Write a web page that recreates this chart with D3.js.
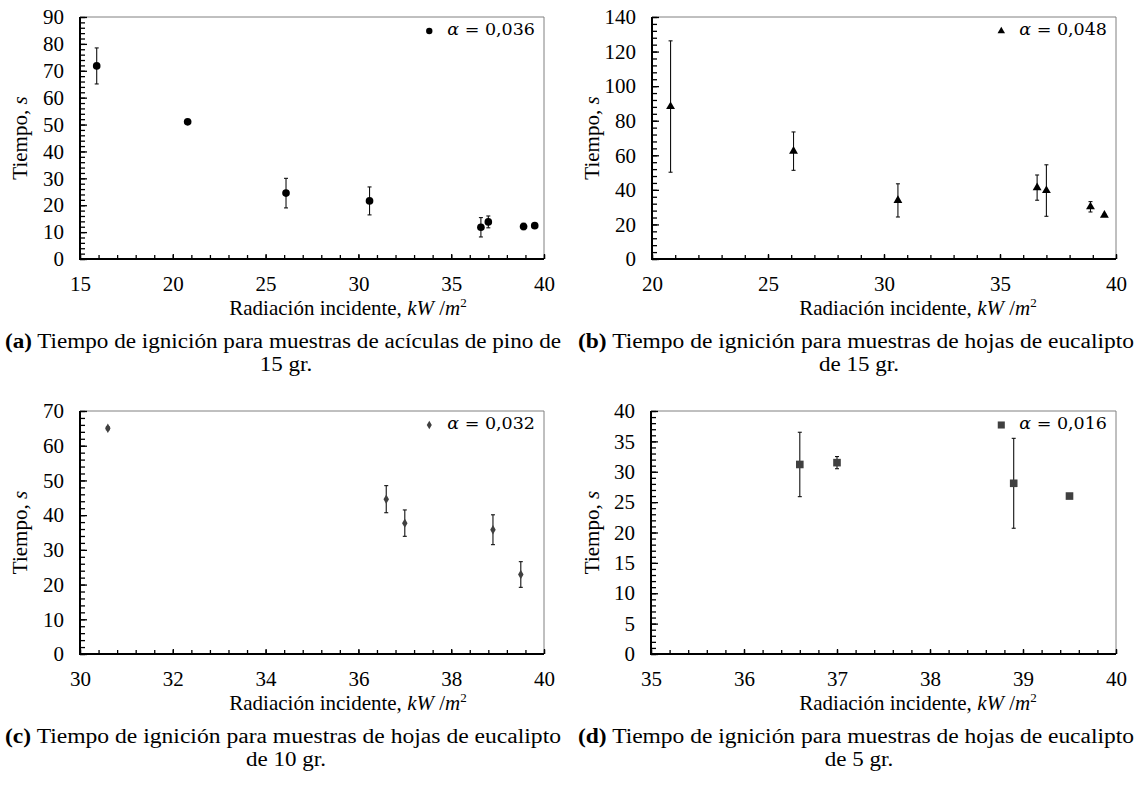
<!DOCTYPE html>
<html>
<head>
<meta charset="utf-8">
<script src="https://cdn.jsdelivr.net/npm/d3@7"></script>
<style>
  body { margin: 0; background: #fff; }
  svg { display: block; }
</style>
</head>
<body>
<svg id="fig" width="1138" height="785"></svg>
<script>
// (a) pine needles, 15 g
const pinoX   = [15.9, 20.8, 26.1, 30.6, 36.6, 37.0, 38.9, 39.5];
const pinoY   = [71.8, 51.0, 24.5, 21.6, 11.8, 13.8, 12.1, 12.4];
const pinoErr = [6.7, 0.8, 5.5, 5.2, 3.6, 2.2, 1.2, 0.6];

// (b) eucalyptus leaves, 15 g
const euc15X   = [20.8, 26.1, 30.6, 36.6, 37.0, 38.9, 39.5];
const euc15Y   = [88.2, 62.4, 33.9, 41.3, 39.6, 30.2, 25.4];
const euc15Err = [38.0, 11.1, 9.6, 7.3, 14.9, 3.0, 0.5];

// (c) eucalyptus leaves, 10 g
const euc10X   = [30.6, 36.6, 37.0, 38.9, 39.5];
const euc10Y   = [65.0, 44.6, 37.7, 35.8, 22.9];
const euc10Err = [0.4, 3.9, 3.8, 4.3, 3.7];

// (d) eucalyptus leaves, 5 g
const euc5X   = [36.6, 37.0, 38.9, 39.5];
const euc5Y   = [31.2, 31.5, 28.1, 26.0];
const euc5Err = [5.3, 1.0, 7.4, 0.3];

// fitted coefficients shown in each legend
const alphaLabels = ["0,036", "0,048", "0,032", "0,016"];

// axis ranges and tick steps
const xDomains = [[15, 40], [20, 40], [30, 40], [35, 40]];
const xMajor   = [5, 5, 2, 1];
const xMinor   = [1, 1, 0.4, 0.2];
const yDomains = [[0, 90], [0, 140], [0, 70], [0, 40]];
const yMajor   = [10, 20, 10, 5];
const yMinor   = [2, 4, 2, 1];

// sub-figure captions
const captionTags  = ["(a)", "(b)", "(c)", "(d)"];
const captionLine1 = [
  " Tiempo de ignición para muestras de acículas de pino de",
  " Tiempo de ignición para muestras de hojas de eucalipto",
  " Tiempo de ignición para muestras de hojas de eucalipto",
  " Tiempo de ignición para muestras de hojas de eucalipto"
];
const captionLine2 = ["15 gr.", "de 15 gr.", "de 10 gr.", "de 5 gr."];

const series = [
  { x: pinoX,  y: pinoY,  e: pinoErr },
  { x: euc15X, y: euc15Y, e: euc15Err },
  { x: euc10X, y: euc10Y, e: euc10Err },
  { x: euc5X,  y: euc5Y,  e: euc5Err }
];

// page layout for the four panels
const layout = [
  { l: 80,  r: 544,  t: 17,  b: 259, col: [0, 566],    ytX: 20,  xtX: 348 },
  { l: 652, r: 1116, t: 17,  b: 259, col: [574, 1138], ytX: 592, xtX: 918 },
  { l: 80,  r: 544,  t: 411, b: 654, col: [0, 566],    ytX: 20,  xtX: 348 },
  { l: 651, r: 1116, t: 411, b: 654, col: [574, 1138], ytX: 592, xtX: 918 }
];

const markerStyle = [
  { type: d3.symbolCircle,   size: 46, legendSize: 32, fill: "#000" },
  { type: d3.symbolTriangle, size: 34, legendSize: 24, fill: "#000" },
  { type: d3.symbolDiamond,  size: 26, legendSize: 22, fill: "#404040" },
  { type: d3.symbolSquare,   size: 58, legendSize: 50, fill: "#404040" }
];

const FONT = "'Liberation Serif', 'Times New Roman', serif";
const MATH = "'DejaVu Serif', serif";
const FS = 21;      // axis text
const CAP_FS = 20;  // caption text
const svg = d3.select("#fig");

function ticksBy(domain, step) {
  const out = [];
  const n = Math.round((domain[1] - domain[0]) / step);
  for (let i = 0; i <= n; i++) out.push(+(domain[0] + i * step).toFixed(6));
  return out;
}

// widen a text run slightly, as the typeset figure's glyphs are
function stretch(sel, k) {
  const w = sel.node().getComputedTextLength();
  sel.attr("textLength", w * k).attr("lengthAdjust", "spacingAndGlyphs");
}

layout.forEach((L, i) => {
  const g = svg.append("g");
  const x = d3.scaleLinear().domain(xDomains[i]).range([L.l, L.r]);
  const y = d3.scaleLinear().domain(yDomains[i]).range([L.b, L.t]);

  // frame: thin grey top/right edges
  g.append("path")
    .attr("d", `M${L.l},${L.t}H${L.r}V${L.b}`)
    .attr("fill", "none").attr("stroke", "#808080").attr("stroke-width", 1);

  // x axis: inward minor + major ticks
  const xMinorAxis = d3.axisBottom(x).tickValues(ticksBy(xDomains[i], xMinor[i]))
    .tickSizeInner(-4).tickSizeOuter(0).tickFormat("");
  const xMajorAxis = d3.axisBottom(x).tickValues(ticksBy(xDomains[i], xMajor[i]))
    .tickSizeInner(-5).tickSizeOuter(0).tickPadding(17).tickFormat(d3.format("d"));
  g.append("g").attr("transform", `translate(0,${L.b})`).call(xMinorAxis)
    .call(s => s.select(".domain").remove())
    .selectAll("line").attr("stroke", "#000").attr("stroke-width", 1.3);
  const xa = g.append("g").attr("transform", `translate(0,${L.b})`).call(xMajorAxis);
  xa.select(".domain").remove();
  xa.selectAll("line").attr("stroke", "#000").attr("stroke-width", 1.3);
  xa.selectAll("text").attr("font-family", FONT).attr("font-size", FS).attr("fill", "#000");

  // y axis: inward minor + major ticks
  const yMinorAxis = d3.axisLeft(y).tickValues(ticksBy(yDomains[i], yMinor[i]))
    .tickSizeInner(-5).tickSizeOuter(0).tickFormat("");
  const yMajorAxis = d3.axisLeft(y).tickValues(ticksBy(yDomains[i], yMajor[i]))
    .tickSizeInner(-7).tickSizeOuter(0).tickPadding(16).tickFormat(d3.format("d"));
  g.append("g").attr("transform", `translate(${L.l},0)`).call(yMinorAxis)
    .call(s => s.select(".domain").remove())
    .selectAll("line").attr("stroke", "#000").attr("stroke-width", 1.3);
  const ya = g.append("g").attr("transform", `translate(${L.l},0)`).call(yMajorAxis);
  ya.select(".domain").remove();
  ya.selectAll("line").attr("stroke", "#000").attr("stroke-width", 1.3);
  ya.selectAll("text").attr("font-family", FONT).attr("font-size", FS).attr("fill", "#000");

  // heavy left and bottom axis lines
  g.append("path")
    .attr("d", `M${L.l},${L.t}V${L.b}H${L.r}`)
    .attr("fill", "none").attr("stroke", "#000").attr("stroke-width", 2);

  // error bars
  const S = series[i];
  const pts = S.x.map((xv, k) => ({ x: xv, y: S.y[k], e: S.e[k] }));
  const eb = g.append("g").attr("stroke", "#111").attr("stroke-width", 1.1);
  pts.forEach(p => {
    const cx = x(p.x), y1 = y(p.y + p.e), y0 = y(p.y - p.e);
    eb.append("line").attr("x1", cx).attr("x2", cx).attr("y1", y1).attr("y2", y0);
    eb.append("line").attr("x1", cx - 2).attr("x2", cx + 2).attr("y1", y1).attr("y2", y1);
    eb.append("line").attr("x1", cx - 2).attr("x2", cx + 2).attr("y1", y0).attr("y2", y0);
  });

  // markers
  const M = markerStyle[i];
  g.append("g").selectAll("path").data(pts).join("path")
    .attr("transform", d => `translate(${x(d.x)},${y(d.y)})`)
    .attr("d", d3.symbol().type(M.type).size(M.size))
    .attr("fill", M.fill);

  // legend
  const legY = L.t + 14;
  const textEnd = L.r - 9;
  const leg = g.append("text")
    .attr("x", textEnd).attr("y", L.t + 18)
    .attr("text-anchor", "end")
    .attr("font-family", MATH).attr("font-size", 17.5).attr("fill", "#000");
  leg.append("tspan").attr("font-style", "italic").text("α");
  leg.append("tspan").text(" = " + alphaLabels[i]);
  const legW = leg.node().getComputedTextLength();
  g.append("path")
    .attr("transform", `translate(${textEnd - legW - 18},${legY})`)
    .attr("d", d3.symbol().type(M.type).size(M.legendSize))
    .attr("fill", M.fill);

  // axis titles
  const xt = g.append("text")
    .attr("x", L.xtX).attr("y", L.b + 56)
    .attr("text-anchor", "middle")
    .attr("font-family", FONT).attr("font-size", FS).attr("fill", "#000");
  xt.append("tspan").text("Radiación incidente, ");
  xt.append("tspan").attr("font-style", "italic").text("kW");
  xt.append("tspan").text(" /");
  xt.append("tspan").attr("font-style", "italic").text("m");
  xt.append("tspan").attr("font-size", 13).attr("dy", -8).text("2");

  const cy = (L.t + L.b) / 2;
  const yt = g.append("text")
    .attr("transform", `translate(${L.ytX + 7},${cy}) rotate(-90)`)
    .attr("text-anchor", "middle")
    .attr("font-family", FONT).attr("font-size", FS).attr("fill", "#000");
  yt.append("tspan").text("Tiempo, ");
  yt.append("tspan").attr("font-style", "italic").text("s");

  // caption
  const capY = L.b + 89;
  const c1 = g.append("text")
    .attr("x", (L.col[0] + L.col[1]) / 2).attr("y", capY)
    .attr("text-anchor", "middle")
    .attr("font-family", FONT).attr("font-size", CAP_FS).attr("fill", "#000")
    .attr("textLength", 556).attr("lengthAdjust", "spacingAndGlyphs");
  c1.append("tspan").attr("font-weight", "bold").text(captionTags[i]);
  c1.append("tspan").text(captionLine1[i]);
  const c2 = g.append("text")
    .attr("x", (L.col[0] + L.col[1]) / 2 + 3).attr("y", capY + 22.5)
    .attr("text-anchor", "middle")
    .attr("font-family", FONT).attr("font-size", CAP_FS).attr("fill", "#000")
    .text(captionLine2[i]);
  stretch(c2, 1.15);
});
</script>
</body>
</html>
